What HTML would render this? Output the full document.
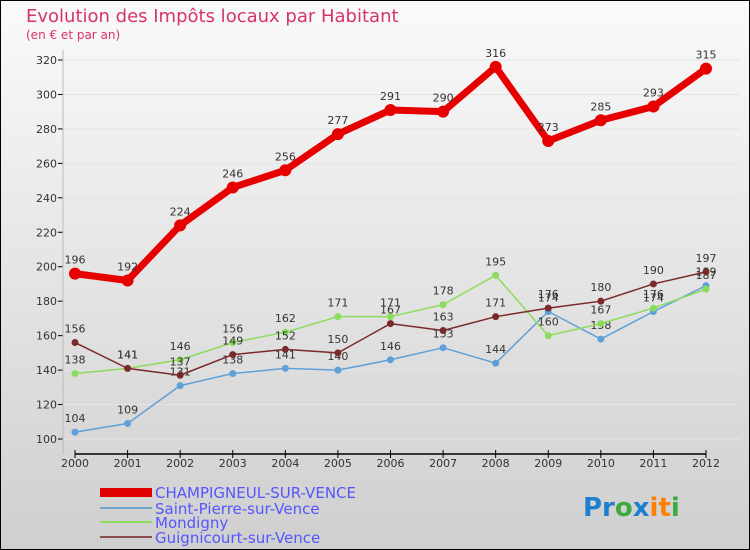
<!DOCTYPE html>
<html><head><meta charset="utf-8"><style>
body{margin:0}
#c{width:750px;height:550px;position:relative;overflow:hidden;font-family:"DejaVu Sans","Liberation Sans",sans-serif}
</style></head><body>
<div id="c">
<svg id="s" width="750" height="550" xmlns="http://www.w3.org/2000/svg">
<defs><linearGradient id="bg" x1="0" y1="0" x2="0" y2="1"><stop offset="0" stop-color="#fafafa"/><stop offset="1" stop-color="#cfcfcf"/></linearGradient></defs>
<rect x="0.5" y="0.5" width="749" height="549" fill="url(#bg)" stroke="#000"/>
<text x="26" y="22" font-size="18" fill="#d6336c">Evolution des Impôts locaux par Habitant</text>
<text x="26" y="39" font-size="12" fill="#d6336c">(en € et par an)</text>
<g id="grid"></g><g id="axes"></g><g id="series"></g>
<g>
<rect x="100" y="488" width="52" height="9" fill="#e00000"/>
<text x="155" y="498" font-size="15" fill="#5555ff">CHAMPIGNEUL-SUR-VENCE</text>
<line x1="100" y1="508" x2="152" y2="508" stroke="#6fa7d0" stroke-width="2"/>
<text x="155" y="514" font-size="15" fill="#5555ff">Saint-Pierre-sur-Vence</text>
<line x1="100" y1="522" x2="152" y2="522" stroke="#8cdc5c" stroke-width="2"/>
<text x="155" y="528" font-size="15" fill="#5555ff">Mondigny</text>
<line x1="100" y1="537" x2="152" y2="537" stroke="#8a5050" stroke-width="2"/>
<text x="155" y="543" font-size="15" fill="#5555ff">Guignicourt-sur-Vence</text>
</g>
<text x="583" y="516" font-size="26" font-weight="bold"><tspan fill="#1e7fd0">Pr</tspan><tspan fill="#3caa3c">o</tspan><tspan fill="#1e7fd0">x</tspan><tspan fill="#ff8000">it</tspan><tspan fill="#3caa3c">i</tspan></text>
</svg>
</div>
<script>
const years=[2000,2001,2002,2003,2004,2005,2006,2007,2008,2009,2010,2011,2012];
const champigneul=[196,192,224,246,256,277,291,290,316,273,285,293,315];
const saintPierre=[104,109,131,138,141,140,146,153,144,174,158,174,189];
const mondigny=[138,141,146,156,162,171,171,178,195,160,167,176,187];
const guignicourt=[156,141,137,149,152,150,167,163,171,176,180,190,197];
const yTicks=[100,120,140,160,180,200,220,240,260,280,300,320];
const NS="http://www.w3.org/2000/svg";
const x=i=>75+i*(706-75)/12;
const y=v=>439-(v-100)*(439-60)/220;
function mk(t,a,p){const e=document.createElementNS(NS,t);for(const k in a)e.setAttribute(k,a[k]);document.getElementById(p).appendChild(e);return e;}
yTicks.forEach(v=>{
 const g=mk('line',{x1:62,x2:740,y1:y(v),y2:y(v),stroke:'#e4e4e4'},'grid');
 
 
 const t=mk('text',{x:57,y:y(v)+4,'font-size':11,'text-anchor':'end',fill:'#333'},'axes');
 
 
 t.textContent=v;
 mk('line',{x1:58,x2:63,y1:y(v),y2:y(v),stroke:'#000'},'axes');
});
const yl=mk('line',{x1:63,x2:63,y1:50,y2:454,stroke:'#bbb'},'axes');


const xl=mk('line',{x1:75,x2:706,y1:454,y2:454,stroke:'#000','stroke-width':1.5},'axes');


years.forEach((yr,i)=>{
 mk('line',{x1:x(i),x2:x(i),y1:450,y2:458,stroke:'#000'},'axes');
 const t=mk('text',{x:x(i),y:467,'font-size':11,'text-anchor':'middle',fill:'#333'},'axes');
 
 
 t.textContent=yr;
});
function series(d,col,w,r,name){
 const p=mk('polyline',{points:d.map((v,i)=>x(i)+','+y(v)).join(' '),fill:'none',stroke:col,'stroke-width':w,'stroke-linejoin':'round'},'series');
 
 
 d.forEach((v,i)=>{
  const c=mk('circle',{cx:x(i),cy:y(v),r:r,fill:col},'series');
  
  
  const t=mk('text',{x:x(i),y:y(v)-10,'font-size':11,'text-anchor':'middle',fill:'#333'},'series');
  
  
  t.textContent=v;
 });
}
series(saintPierre,'#5fa0d8',1.5,3.5,'saint-pierre');
series(mondigny,'#8cdc5c',1.5,3.5,'mondigny');
series(guignicourt,'#7a2a2a',1.5,3.5,'guignicourt');
series(champigneul,'#e60000',7,6,'champigneul');
</script>
</body></html>
